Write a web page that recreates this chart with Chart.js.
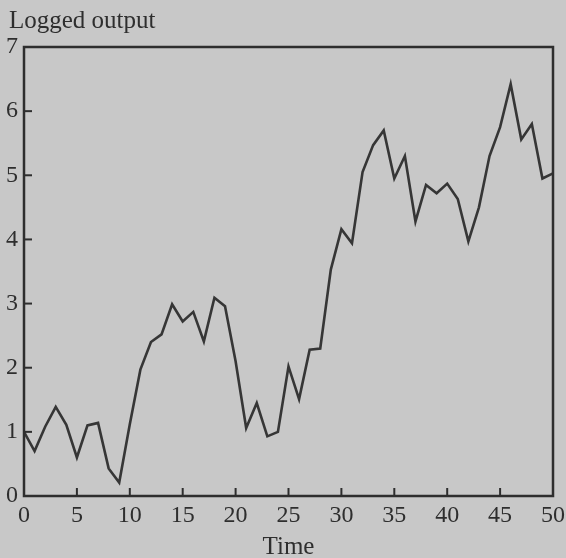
<!DOCTYPE html>
<html>
<head>
<meta charset="utf-8">
<script src="https://cdn.jsdelivr.net/npm/chart.js@4/dist/chart.umd.min.js"></script>
<style>
  html, body { margin: 0; padding: 0; background: #c8c8c8; }
  #wrap { width: 566px; height: 558px; }
</style>
</head>
<body>
<div id="wrap"><canvas id="c" width="566" height="558"></canvas></div>
<script>
// ---- data ----
const times = [0,1,2,3,4,5,6,7,8,9,10,11,12,13,14,15,16,17,18,19,20,21,22,23,24,25,26,27,28,29,30,31,32,33,34,35,36,37,38,39,40,41,42,43,44,45,46,47,48,49,50];
const loggedOutput = [1.0,0.70,1.08,1.39,1.11,0.60,1.10,1.14,0.43,0.21,1.12,1.97,2.40,2.52,2.99,2.72,2.87,2.41,3.09,2.96,2.10,1.06,1.45,0.93,1.00,2.02,1.51,2.28,2.30,3.53,4.16,3.94,5.05,5.47,5.70,4.95,5.30,4.28,4.85,4.72,4.87,4.63,3.97,4.50,5.30,5.75,6.42,5.56,5.80,4.95,5.03];
const xTicks = [0,5,10,15,20,25,30,35,40,45,50];
const yTicks = [0,1,2,3,4,5,6,7];
const yTitle = 'Logged output';
const xTitle = 'Time';

const INK = '#2e2e2e';
const BG = '#c8c8c8';
const FONT = "'Liberation Serif', 'DejaVu Serif', serif";

const bgPlugin = {
  id: 'bg',
  beforeDraw(chart) {
    const ctx = chart.ctx;
    ctx.save();
    ctx.fillStyle = BG;
    ctx.fillRect(0, 0, chart.width, chart.height);
    ctx.restore();
  }
};

const framePlugin = {
  id: 'frame',
  afterDraw(chart) {
    const ctx = chart.ctx;
    const a = chart.chartArea;
    const xs = chart.scales.x, ys = chart.scales.y;
    ctx.save();
    ctx.strokeStyle = INK;
    ctx.lineWidth = 2.5;
    ctx.lineCap = 'square';
    ctx.strokeRect(a.left, a.top, a.right - a.left, a.bottom - a.top);
    // inward tick marks
    ctx.lineCap = 'butt';
    ctx.lineWidth = 2;
    xTicks.forEach(v => {
      const px = xs.getPixelForValue(v);
      ctx.beginPath(); ctx.moveTo(px, a.bottom); ctx.lineTo(px, a.bottom - 8); ctx.stroke();
    });
    yTicks.forEach(v => {
      const py = ys.getPixelForValue(v);
      ctx.beginPath(); ctx.moveTo(a.left, py); ctx.lineTo(a.left + 8, py); ctx.stroke();
    });
    // y title at top-left
    ctx.fillStyle = INK;
    ctx.font = "25px " + FONT;
    ctx.textAlign = 'left';
    ctx.textBaseline = 'middle';
    ctx.fillText(yTitle, 9, 21);
    ctx.restore();
  }
};

new Chart(document.getElementById('c'), {
  type: 'line',
  data: {
    datasets: [{
      data: times.map((t, i) => ({ x: t, y: loggedOutput[i] })),
      borderColor: '#363636',
      borderWidth: 2.6,
      pointRadius: 0,
      tension: 0,
      fill: false
    }]
  },
  options: {
    responsive: false,
    animation: false,
    devicePixelRatio: 1,
    layout: { padding: { left: 0, right: 13, top: 47, bottom: 0 } },
    plugins: { legend: { display: false }, tooltip: { enabled: false }, title: { display: false } },
    scales: {
      x: {
        type: 'linear', min: 0, max: 50,
        afterBuildTicks(s) { s.ticks = xTicks.map(v => ({ value: v })); },
        afterFit(s) { s.height = 62; s.paddingLeft = 0; s.paddingRight = 0; },
        grid: { display: false, drawTicks: false },
        border: { display: false },
        ticks: { color: INK, padding: 5, maxRotation: 0, autoSkip: false, font: { family: FONT, size: 24 } },
        title: { display: true, text: xTitle, color: INK, padding: 0, font: { family: FONT, size: 25, lineHeight: 0.85 } }
      },
      y: {
        type: 'linear', min: 0, max: 7,
        afterBuildTicks(s) { s.ticks = yTicks.map(v => ({ value: v })); },
        afterFit(s) { s.width = 24; s.paddingTop = 0; s.paddingBottom = 0; },
        grid: { display: false, drawTicks: false },
        border: { display: false },
        ticks: { color: INK, padding: 6, autoSkip: false, font: { family: FONT, size: 24 } }
      }
    }
  },
  plugins: [bgPlugin, framePlugin]
});
</script>
</body>
</html>
